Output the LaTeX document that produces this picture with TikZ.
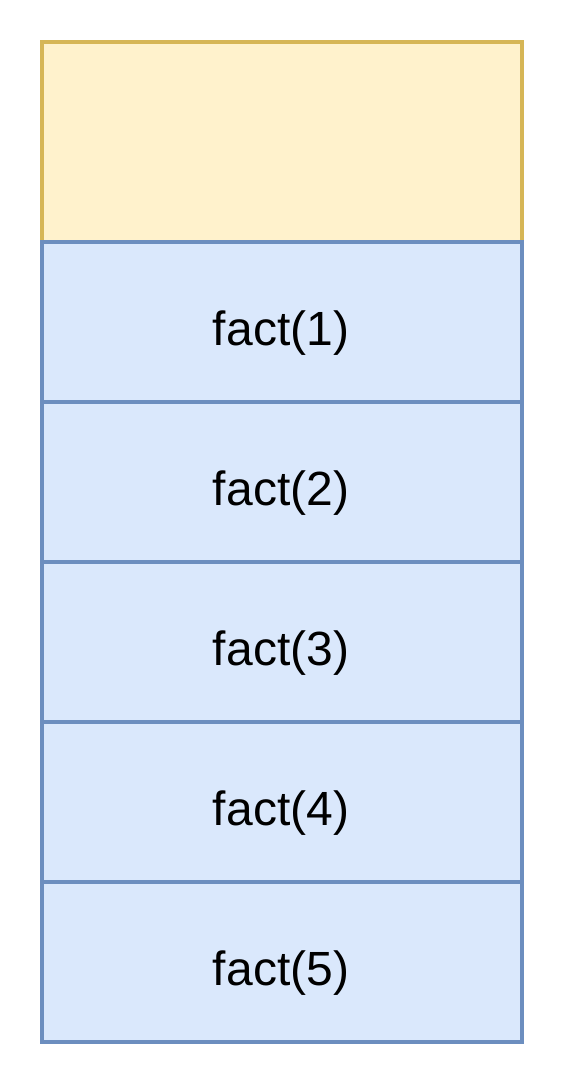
\documentclass[tikz,border=0pt]{standalone}
\usepackage{fontspec}
\setmainfont{Liberation Sans}
\definecolor{yfill}{HTML}{FFF2CC}
\definecolor{ydraw}{HTML}{D6B656}
\definecolor{bfill}{HTML}{DAE8FC}
\definecolor{bdraw}{HTML}{6C8EBF}
\tikzset{
  frame/.style={line width=3pt},
  yellowbox/.style={frame, fill=yfill, draw=ydraw},
  bluebox/.style={frame, fill=bfill, draw=bdraw},
  lbl/.style={font=\fontsize{36}{36}\selectfont, inner sep=0pt}
}
\begin{document}
\begin{tikzpicture}[x=0.75pt,y=-0.75pt]
\useasboundingbox (0,0) rectangle (564,1084);
\draw[yellowbox] (42,42) rectangle (522,242);
\foreach \i/\t in {0/1,1/2,2/3,3/4,4/5}{
  \draw[bluebox] (42,242+160*\i) rectangle (522,402+160*\i);
  \node[lbl] (f\t) at (281,322+160*\i+11) {fact(\t)};
}
\end{tikzpicture}
\end{document}
